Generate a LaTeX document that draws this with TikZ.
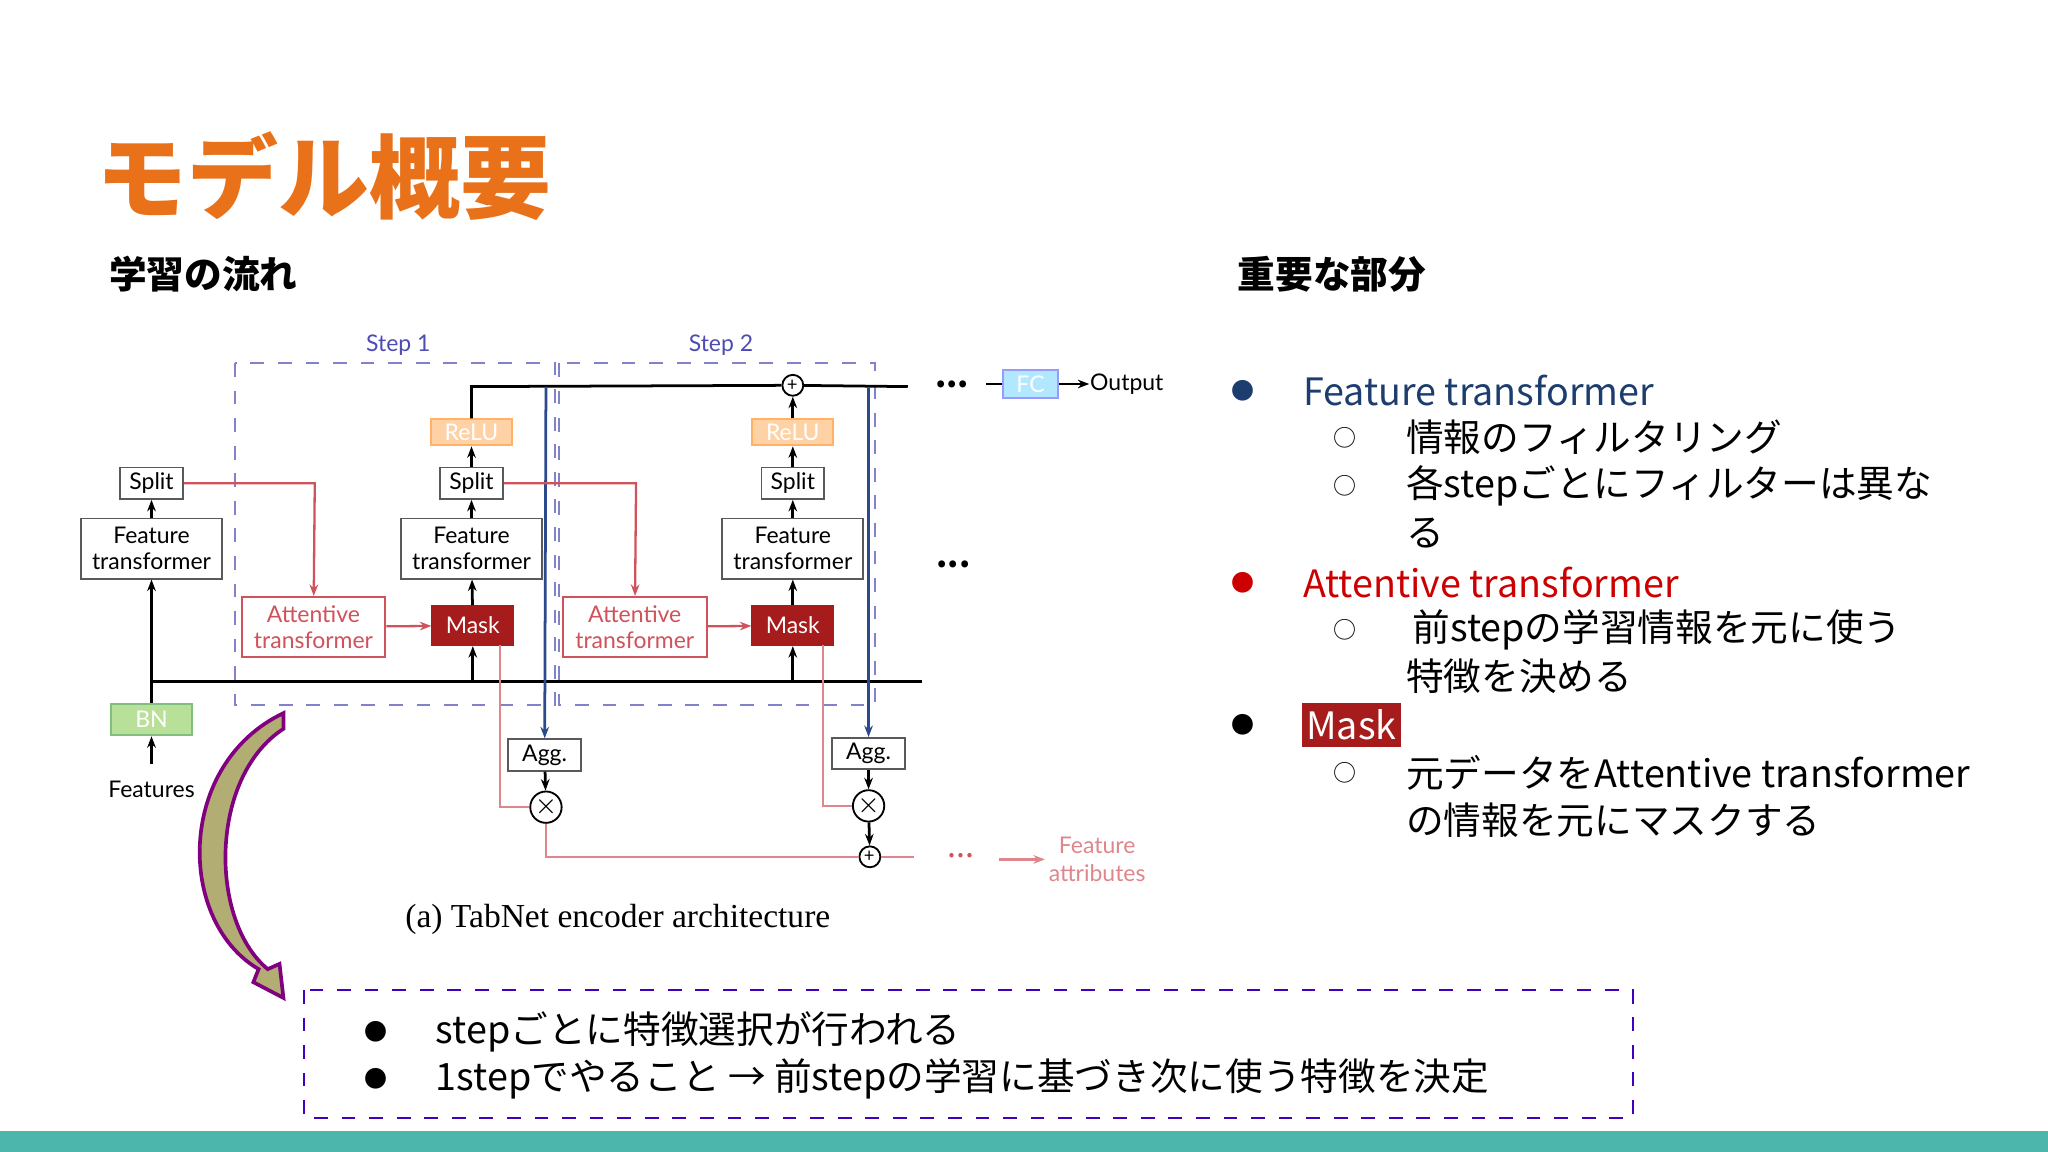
\documentclass[tikz,border=0pt]{standalone}
\usepackage{fontspec}
\setmainfont{Noto Sans CJK JP}
\newfontfamily\dgf{Lato}
\newfontfamily\serf{Liberation Serif}
\usetikzlibrary{arrows.meta}
\definecolor{ttl}{HTML}{E8711A}
\definecolor{navy}{HTML}{1C3D6E}
\definecolor{rd}{HTML}{CC0000}
\definecolor{mask}{HTML}{A61C1C}
\definecolor{teal}{HTML}{4DB6AC}
\definecolor{lred}{HTML}{D0525A}
\definecolor{bl}{HTML}{2B4A8C}
\tikzset{
 bx/.style={draw=gray!70!black,fill=white,font=\dgf\fontsize{5}{5.6}\selectfont,align=center,inner sep=0pt},
 att/.style={bx,draw=lred,text=lred,minimum width=1.1cm,minimum height=0.46cm},
 ft/.style={bx,minimum width=1.08cm,minimum height=0.46cm},
 sp/.style={bx,minimum width=0.48cm,minimum height=0.24cm},
 relu/.style={bx,draw=orange!60,fill=orange!35,text=white,minimum width=0.62cm,minimum height=0.2cm},
 mk/.style={bx,draw=mask,fill=mask,text=white,minimum width=0.62cm,minimum height=0.3cm},
 op/.style={circle,draw=black,fill=white,inner sep=0pt,minimum size=0.16cm,font=\fontsize{4}{4}\selectfont},
 ln/.style={line width=0.6pt},
 ar/.style={ln,-{Stealth[length=2.5pt]}},
 rl/.style={draw=lred,line width=0.5pt},
 body/.style={anchor=west,font=\fontsize{8.2}{9}\selectfont,inner sep=0pt},
 bul/.style={font=\fontsize{5}{5}\selectfont,inner sep=0pt},
}
\begin{document}
\begin{tikzpicture}[x=0.01cm,y=-0.01cm]
\useasboundingbox (0,0) rectangle (1568,882);
\fill[teal] (0,866) rectangle (1568,882);
\node[anchor=west,text=ttl,font=\fontsize{19.8}{20}\selectfont\bfseries,inner sep=0pt] (title) at (73,135) {モデル概要};
\node[anchor=west,font=\fontsize{8.2}{9}\selectfont\bfseries,inner sep=0pt] (h1) at (83,210) {学習の流れ};
\node[anchor=west,font=\fontsize{8.2}{9}\selectfont\bfseries,inner sep=0pt] (h2) at (947,210) {重要な部分};
% steps
\draw[dashed,draw=gray!60!blue!70] (180,278) rectangle (425,540);
\draw[dashed,draw=gray!60!blue!70] (428,278) rectangle (670,540);
\node[font=\dgf\fontsize{5}{6}\selectfont,text=gray!60!blue] (s1) at (305,264) {Step 1};
\node[font=\dgf\fontsize{5}{6}\selectfont,text=gray!60!blue] (s2) at (552,264) {Step 2};
% nodes
\node[sp] (sp0) at (116,370) {Split};
\node[sp] (sp1) at (361,370) {Split};
\node[sp] (sp2) at (607,370) {Split};
\node[ft] (ft0) at (116,420) {Feature\\transformer};
\node[ft] (ft1) at (361,420) {Feature\\transformer};
\node[ft] (ft2) at (607,420) {Feature\\transformer};
\node[relu] (r1) at (361,331) {ReLU};
\node[relu] (r2) at (607,331) {ReLU};
\node[att] (a1) at (240,480) {Attentive\\transformer};
\node[att] (a2) at (486,480) {Attentive\\transformer};
\node[mk] (m1) at (362,479) {Mask};
\node[mk] (m2) at (607,479) {Mask};
\node[bx,draw=green!50!black!50,fill=green!40!olive!40,text=white,minimum width=0.62cm,minimum height=0.24cm] (bn) at (116,551) {BN};
\node[font=\dgf\fontsize{5}{6}\selectfont] (feat) at (116,604) {Features};
\node[sp,minimum width=0.56cm] (ag1) at (417,578) {Agg.};
\node[sp,minimum width=0.56cm] (ag2) at (665,577) {Agg.};
\node[op] (p1) at (607,295) {+};
\node[op] (x1) at (418,618) {$\times$};
\node[op] (x2) at (665,617) {$\times$};
\node[op] (p2) at (666,656) {+};
\node[bx,draw=blue!40,fill=blue!30!cyan!30,text=white,minimum width=0.42cm,minimum height=0.22cm] (fc) at (789,294) {FC};
\node[font=\dgf\fontsize{5}{6}\selectfont,anchor=west,inner sep=0pt] (out) at (834,294) {Output};
\node[font=\dgf\fontsize{5}{6}\selectfont,text=lred!70,align=center] (fa) at (840,658) {Feature\\attributes};
\node (d1) at (729,294) {\textbf{\fontsize{7}{7}\selectfont...}};
\node (d2) at (730,432) {\textbf{\fontsize{7}{7}\selectfont...}};
\node (d3) at (736,655) {\textcolor{lred}{\fontsize{7}{7}\selectfont...}};
\coordinate (dend) at (695,296);
\coordinate (fcin) at (755,294);
\node[font=\serf\fontsize{7.3}{8}\selectfont] (cap) at (473,704) {(a) TabNet encoder architecture};
% black lines
\draw[ln] (116,522) -- (706,522);
\draw[ar] (feat) -- (bn);
\draw[ar] (bn) -- (ft0);
\draw[ar] (ft0) -- (sp0);
\draw[ar] (m1) -- (ft1); \draw[ar] (ft1) -- (sp1); \draw[ar] (sp1) -- (r1);
\draw[ar] (m2) -- (ft2); \draw[ar] (ft2) -- (sp2); \draw[ar] (sp2) -- (r2);
\draw[ar] (362,522) -- (m1); \draw[ar] (607,522) -- (m2);
\draw[ln] (r1) -- (361,296) -- (p1);
\draw[ar] (r2) -- (p1);
\draw[ln] (p1) -- (dend);
\draw[ar] (fc) -- (out);
\draw[ln] (fcin) -- (fc);
% blue lines
\draw[ar,draw=bl] (418,296) -- (ag1);
\draw[ar,draw=bl] (665,296) -- (ag2);
\draw[ar] (ag1) -- (x1); \draw[ar] (ag2) -- (x2);
\draw[ar] (x2) -- (p2);
% red lines
\draw[rl,-{Stealth[length=2.5pt]}] (sp0) -- (241,370) -- (a1);
\draw[rl,-{Stealth[length=2.5pt]}] (sp1) -- (487,370) -- (a2);
\draw[rl,-{Stealth[length=2.5pt]}] (a1) -- (m1);
\draw[rl,-{Stealth[length=2.5pt]}] (a2) -- (m2);
\draw[rl,draw=lred!70] (383,494) -- (383,618) -- (x1);
\draw[rl,draw=lred!70] (630,494) -- (630,617) -- (x2);
\draw[rl,draw=lred!70] (x1) -- (418,656) -- (p2);
\draw[rl,draw=lred!70] (p2) -- (700,656);
\draw[rl,draw=lred!70,-{Stealth[length=2.5pt]}] (765,658) -- (800,658);
% curved arrow
\draw[draw=violet,line width=0.8pt,fill=olive!50!gray!70] (217,546) .. controls (135,585) and (135,705) .. (198,742) -- (194,752) -- (217,764) -- (214,738) -- (205,742) .. controls (160,705) and (160,595) .. (217,558) -- cycle;
% bottom box
\draw[dashed,draw=blue!50!violet] (233,758) rectangle (1250,856);
\node[bul] at (288,790) {●}; \node[body] (bb1) at (333,790) {stepごとに特徴選択が行われる};
\node[bul] at (288,826) {●}; \node[body] (bb2) at (333,826) {1stepでやること → 前stepの学習に基づき次に使う特徴を決定};
% right bullets
\node[bul,text=navy] at (952,299) {●}; \node[body,text=navy] at (997,299) {Feature transformer};
\node[bul] at (1030,335) {○}; \node[body] at (1076,335) {情報のフィルタリング};
\node[bul] at (1030,372) {○}; \node[body] at (1076,372) {各stepごとにフィルターは異な};
\node[body] at (1076,408) {る};
\node[bul,text=rd] at (952,446) {●}; \node[body,text=rd] at (997,446) {Attentive transformer};
\node[bul] at (1030,482) {○}; \node[body] at (1076,482) {\,前stepの学習情報を元に使う};
\node[body] at (1076,518) {特徴を決める};
\node[bul] at (952,555) {●}; \node[body,fill=mask,text=white,inner xsep=1pt,inner ysep=1.5pt] at (996,555) {Mask};
\node[bul] at (1030,592) {○}; \node[body] at (1076,592) {元データをAttentive transformer};
\node[body] at (1076,628) {の情報を元にマスクする};
\end{tikzpicture}
\end{document}
